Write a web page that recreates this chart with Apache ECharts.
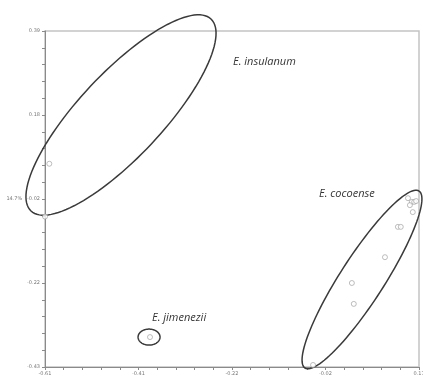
<!DOCTYPE html>
<html><head><meta charset="utf-8">
<script src="https://cdn.jsdelivr.net/npm/echarts@6/dist/echarts.min.js"></script>
<style>html,body{margin:0;padding:0;background:#fff}#c{width:423px;height:381px}</style>
</head><body><div id="c"></div>
<script>
// Axis ticks
const xTickValues = [-0.61, -0.415, -0.22, -0.025, 0.17];
const xTickLabels = ['-0.61', '-0.41', '-0.22', '-0.02', '0.17'];
const yTickValues = [-0.43, -0.225, -0.02, 0.185, 0.39];
const yTickLabels = ['-0.43', '-0.22', '-0.02', '0.18', '0.39'];
const xAxisName = '21.24%';
const yAxisName = '14.7%';

// Points (PC1, PC2)
const insulanumPts = [[-0.601, 0.066], [-0.61, -0.063]];
const jimeneziiPts = [[-0.391, -0.357]];
const cocoensePts = [
  [0.147, -0.018], [0.155, -0.027], [0.160, -0.027], [0.164, -0.025],
  [0.151, -0.035], [0.157, -0.052], [0.126, -0.088], [0.132, -0.088],
  [0.099, -0.162], [0.030, -0.225], [0.034, -0.276], [-0.051, -0.425]
];

// Ellipses: center, half-axis vector U, half-axis vector V (data units)
const ellInsulanum = {c: [-0.4515, 0.185], u: [0.1877, 0.2343], v: [0.0638, -0.0700]};
const ellJimenezii = {c: [-0.393, -0.357], u: [0.0229, 0], v: [0, 0.0195]};
const ellCocoense = {c: [0.0511, -0.2165], u: [0.1189, 0.2160], v: [0.0386, -0.0290]};
const ellipses = [ellInsulanum, ellJimenezii, ellCocoense];

function ellipsePath(e) {
  const out = [];
  const n = 120;
  for (let i = 0; i <= n; i++) {
    const t = i / n * Math.PI * 2;
    out.push([e.c[0] + e.u[0] * Math.cos(t) + e.v[0] * Math.sin(t),
              e.c[1] + e.u[1] * Math.cos(t) + e.v[1] * Math.sin(t)]);
  }
  return out;
}
function subTicks(vals, k) {
  const out = [];
  for (let i = 0; i < vals.length - 1; i++) {
    for (let j = 0; j < k; j++) out.push(vals[i] + (vals[i + 1] - vals[i]) * j / k);
  }
  out.push(vals[vals.length - 1]);
  return out;
}

const chart = echarts.init(document.getElementById('c'), null, {renderer: 'canvas'});
const axisCommon = {
  type: 'value',
  axisLine: {show: true, onZero: false, lineStyle: {color: '#8a8a8a', width: 1}},
  splitLine: {show: false},
  axisLabel: {fontSize: 5, color: '#777', fontFamily: 'DejaVu Sans'},
  axisTick: {show: true, length: 3, lineStyle: {color: '#8a8a8a'}},
  nameTextStyle: {fontSize: 5, color: '#777', fontFamily: 'DejaVu Sans'}
};
const ptStyle = {color: '#fff', borderColor: '#999', borderWidth: 0.8};

chart.setOption({
  animation: false,
  backgroundColor: '#fff',
  grid: {left: 45, top: 31, right: 4, bottom: 14, show: true, borderColor: '#c4c4c4', borderWidth: 1.5,
         containLabel: false, outerBoundsMode: 'none'},
  xAxis: Object.assign({}, axisCommon, {
    min: xTickValues[0], max: xTickValues[xTickValues.length - 1],
    name: xAxisName, nameLocation: 'middle', nameGap: 10,
    axisLabel: Object.assign({}, axisCommon.axisLabel, {margin: 4,
      customValues: xTickValues,
      formatter: v => xTickLabels[xTickValues.findIndex(t => Math.abs(t - v) < 1e-6)] || ''}),
    axisTick: Object.assign({}, axisCommon.axisTick, {customValues: subTicks(xTickValues, 5)})
  }),
  yAxis: Object.assign({}, axisCommon, {
    min: yTickValues[0], max: yTickValues[yTickValues.length - 1],
    axisLabel: Object.assign({}, axisCommon.axisLabel, {margin: 5,
      customValues: yTickValues,
      formatter: v => {
        const i = yTickValues.findIndex(t => Math.abs(t - v) < 1e-6);
        if (i < 0) return '';
        return (i === 2 ? yAxisName + '   ' : '') + yTickLabels[i];
      }}),
    axisTick: Object.assign({}, axisCommon.axisTick, {customValues: subTicks(yTickValues, 5)})
  }),
  series: [
    {
      type: 'custom', clip: false, silent: true, z: 3,
      data: ellipses.map((e, i) => [e.c[0], e.c[1], i]),
      renderItem: (params, api) => {
        const e = ellipses[api.value(2)];
        const pts = ellipsePath(e).map(p => api.coord(p));
        return {type: 'polyline', shape: {points: pts},
                style: {stroke: '#3a3a3a', lineWidth: 1.5, fill: null}};
      }
    },
    {type: 'scatter', data: insulanumPts, symbolSize: 5, itemStyle: ptStyle, clip: false, z: 4},
    {type: 'scatter', data: jimeneziiPts, symbolSize: 5, itemStyle: ptStyle, clip: false, z: 4},
    {type: 'scatter', data: cocoensePts, symbolSize: 5, itemStyle: ptStyle, clip: false, z: 4}
  ],
  graphic: [
    {type: 'text', left: 233, top: 56, style: {text: 'E. insulanum', fontSize: 11, fontStyle: 'italic', fill: '#333', fontFamily: 'Open Sans'}},
    {type: 'text', left: 319, top: 188, style: {text: 'E. cocoense', fontSize: 11, fontStyle: 'italic', fill: '#333', fontFamily: 'Open Sans'}},
    {type: 'text', left: 152, top: 312, style: {text: 'E. jimenezii', fontSize: 11, fontStyle: 'italic', fill: '#333', fontFamily: 'Open Sans'}}
  ]
});
</script>
</body></html>
